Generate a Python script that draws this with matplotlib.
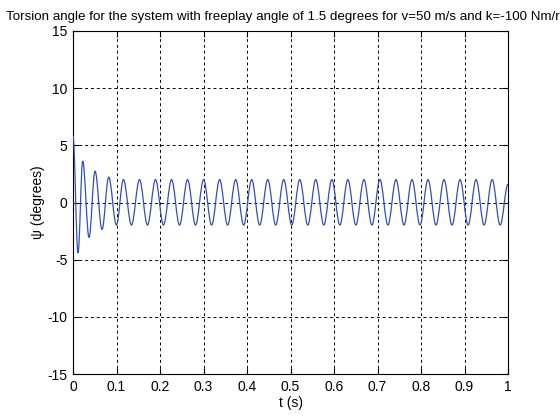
import matplotlib
matplotlib.use("Agg")
import matplotlib.pyplot as plt
from matplotlib.path import Path
from matplotlib.patches import PathPatch

plt.rcParams['font.family'] = ['Liberation Sans', 'DejaVu Sans']
plt.rcParams['axes.unicode_minus'] = False

# Extrema of the torsion-angle trace (time s, angle deg)
ext_t = [0.0000, 0.0115, 0.0223, 0.0368, 0.0506, 0.0667, 0.0820, 0.0998,
         0.1159, 0.1343, 0.1528, 0.1712, 0.1896, 0.2080, 0.2265, 0.2449,
         0.2633, 0.2817, 0.3002, 0.3186, 0.3370, 0.3554, 0.3739, 0.3923,
         0.4107, 0.4291, 0.4476, 0.4660, 0.4844, 0.5028, 0.5213, 0.5397,
         0.5581, 0.5765, 0.5950, 0.6134, 0.6318, 0.6502, 0.6687, 0.6871,
         0.7055, 0.7239, 0.7424, 0.7608, 0.7792, 0.7976, 0.8161, 0.8345,
         0.8529, 0.8713, 0.8898, 0.9082, 0.9266, 0.9450, 0.9635, 0.9819,
         1.0000]
ext_v = [5.80, -4.41, 3.62, -3.05, 2.74, -2.35, 2.21, -1.97,
         2.00, -1.97, 2.00, -1.97, 2.00, -1.97, 2.00, -1.97,
         2.00, -1.97, 2.00, -1.97, 2.00, -1.97, 2.00, -1.97,
         2.00, -1.97, 2.00, -1.97, 2.00, -1.97, 2.00, -1.97,
         2.00, -1.97, 2.00, -1.97, 2.00, -1.97, 2.00, -1.97,
         2.00, -1.97, 2.00, -1.97, 2.00, -1.97, 2.00, -1.97,
         2.00, -1.97, 2.00, -1.97, 2.00, -1.97, 2.00, -1.97,
         1.60]

xticks = [0, 0.1, 0.2, 0.3, 0.4, 0.5, 0.6, 0.7, 0.8, 0.9, 1]
xticklabels = ['0', '0.1', '0.2', '0.3', '0.4', '0.5', '0.6', '0.7', '0.8', '0.9', '1']
yticks = [-15, -10, -5, 0, 5, 10, 15]

fig = plt.figure(figsize=(5.6, 4.2), dpi=100)
ax = fig.add_axes([0.1304, 0.1095, 0.7768, 0.8167])

# smooth curve through extrema (horizontal tangents) drawn as Bezier path
verts = [(ext_t[0], ext_v[0])]
codes = [Path.MOVETO]
for i in range(1, len(ext_t)):
    t0, v0 = ext_t[i - 1], ext_v[i - 1]
    t1, v1 = ext_t[i], ext_v[i]
    dt = t1 - t0
    verts += [(t0 + 0.364 * dt, v0), (t1 - 0.364 * dt, v1), (t1, v1)]
    codes += [Path.CURVE4] * 3
ax.add_patch(PathPatch(Path(verts, codes), facecolor='none',
                       edgecolor='#2f4fbf', linewidth=0.9, zorder=3))

ax.set_xlim(0, 1)
ax.set_ylim(-15, 15)
ax.set_xticks(xticks)
ax.set_xticklabels(xticklabels)
ax.set_yticks(yticks)
ax.tick_params(direction='in', length=4, width=0.8, labelsize=10,
               top=True, right=True, colors='black', pad=4)
ax.grid(True, color='black', linestyle=(0, (3, 3)), linewidth=0.7)
for s in ax.spines.values():
    s.set_linewidth(0.8)
    s.set_color('black')

ax.set_title('Torsion angle for the system with freeplay angle of 1.5 degrees for v=50 m/s and k=-100 Nm/rad',
             fontsize=9.6, pad=8)
ax.set_xlabel('t (s)', fontsize=10, labelpad=2)
ax.set_ylabel('ψ (degrees)', fontsize=10, labelpad=2)

fig.savefig('out.png', dpi=100)
